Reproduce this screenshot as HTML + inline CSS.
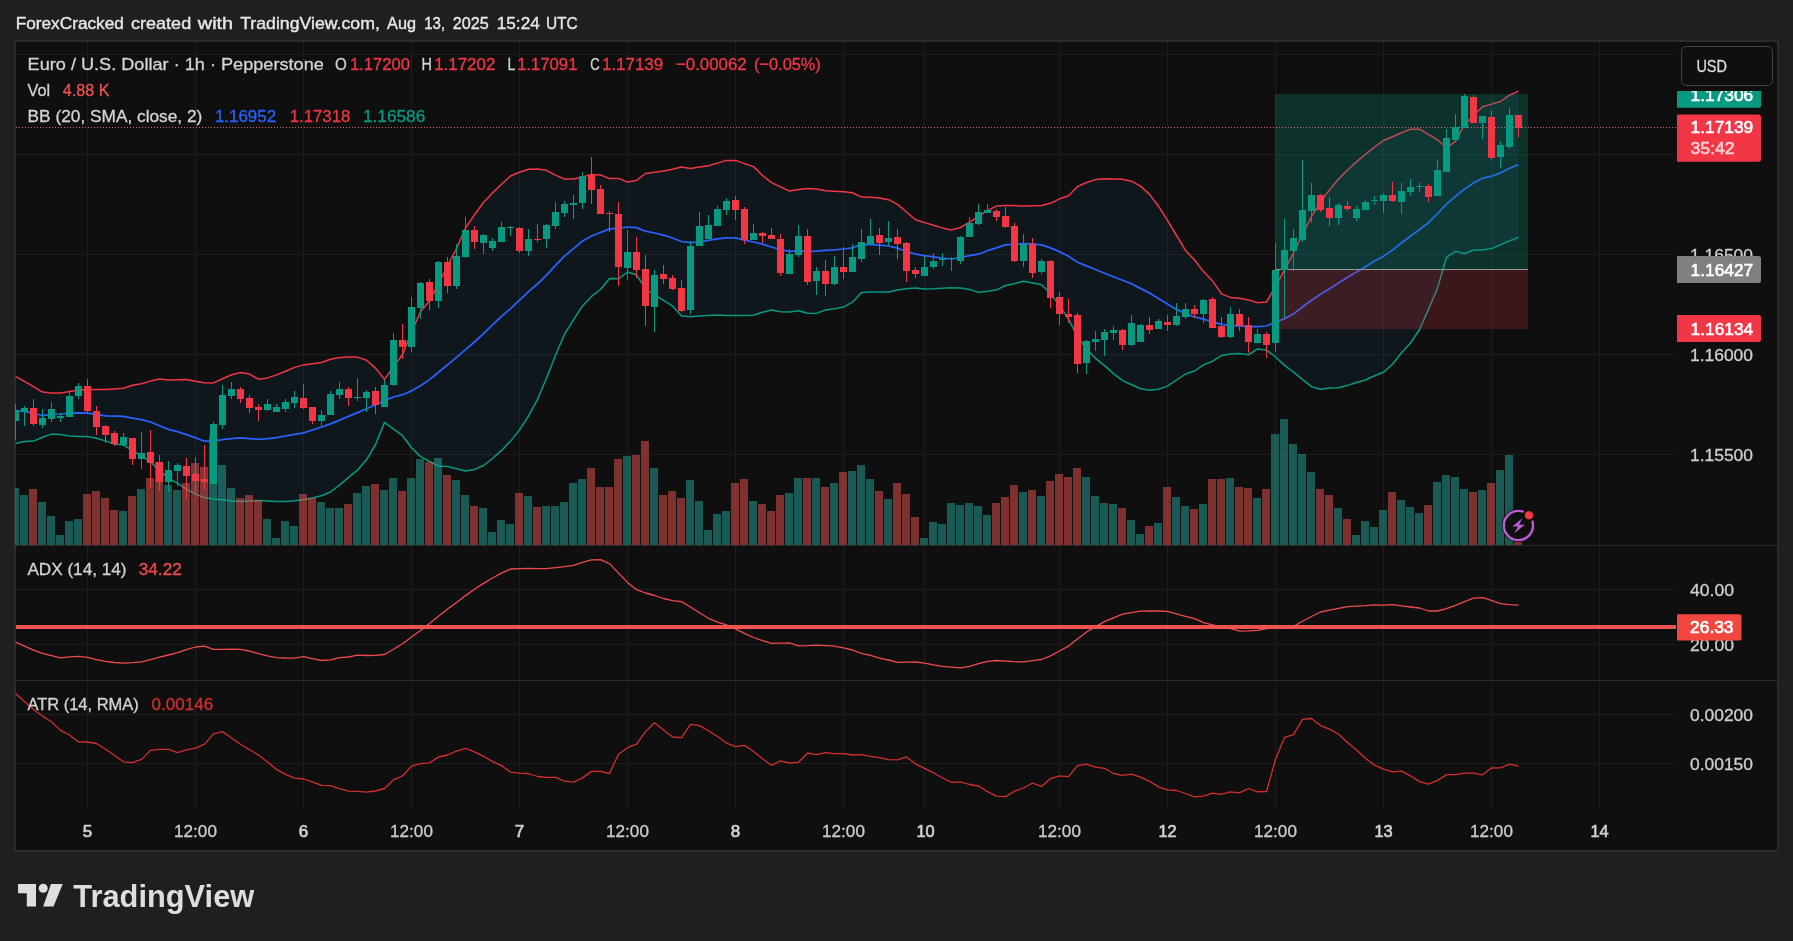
<!DOCTYPE html>
<html lang="en"><head><meta charset="utf-8"><title>EURUSD 1h chart - TradingView</title>
<style>html,body{margin:0;padding:0;background:#1f1f1f;}body{width:1793px;height:941px;overflow:hidden;}svg{display:block;font-family:'Liberation Sans', sans-serif;will-change:transform;}text{white-space:pre;}</style>
</head><body>
<svg width="1793" height="941" viewBox="0 0 1793 941">
<defs>
<clipPath id="cpMain"><rect x="15" y="42" width="1661" height="503"/></clipPath>
<clipPath id="cpAdx"><rect x="15" y="546" width="1661" height="134"/></clipPath>
<clipPath id="cpAtr"><rect x="15" y="681" width="1661" height="128"/></clipPath>
<clipPath id="cpAxis"><rect x="1677" y="91" width="100" height="454"/></clipPath>
</defs>
<rect x="0" y="0" width="1793" height="941" fill="#1f1f1f"/>
<rect x="14" y="40" width="1765" height="812" fill="#2b2b2b"/>
<rect x="16" y="42" width="1761" height="808" fill="#0f0f0f"/>
<g fill="#1d1d1d" shape-rendering="crispEdges">
<rect x="87" y="42" width="1" height="767"/>
<rect x="195" y="42" width="1" height="767"/>
<rect x="303" y="42" width="1" height="767"/>
<rect x="411" y="42" width="1" height="767"/>
<rect x="519" y="42" width="1" height="767"/>
<rect x="627" y="42" width="1" height="767"/>
<rect x="735" y="42" width="1" height="767"/>
<rect x="843" y="42" width="1" height="767"/>
<rect x="924" y="42" width="1" height="767"/>
<rect x="1059" y="42" width="1" height="767"/>
<rect x="1167" y="42" width="1" height="767"/>
<rect x="1275" y="42" width="1" height="767"/>
<rect x="1383" y="42" width="1" height="767"/>
<rect x="1491" y="42" width="1" height="767"/>
<rect x="1599" y="42" width="1" height="767"/>
<rect x="16" y="54" width="1660" height="1"/>
<rect x="16" y="154" width="1660" height="1"/>
<rect x="16" y="254" width="1660" height="1"/>
<rect x="16" y="354" width="1660" height="1"/>
<rect x="16" y="454" width="1660" height="1"/>
<rect x="16" y="589" width="1660" height="1"/>
<rect x="16" y="644" width="1660" height="1"/>
<rect x="16" y="714" width="1660" height="1"/>
<rect x="16" y="763" width="1660" height="1"/>
</g>
<g fill="#2a2a2a" shape-rendering="crispEdges">
<rect x="16" y="545" width="1761" height="1"/>
<rect x="16" y="680" width="1761" height="1"/>
</g>
<g clip-path="url(#cpMain)">
<polygon points="15.5,376.4 24.5,381.4 33.5,386.6 42.5,392.1 51.5,393.0 60.5,393.0 69.5,391.5 78.5,390.1 87.5,389.8 96.5,389.6 105.5,389.5 114.5,388.9 123.5,388.2 132.5,385.2 141.5,383.7 150.5,381.1 159.5,379.1 168.5,380.1 177.5,379.7 186.5,379.5 195.5,381.2 204.5,382.7 213.5,382.9 222.5,378.7 231.5,374.7 240.5,372.6 249.5,374.1 258.5,379.3 267.5,377.9 276.5,374.9 285.5,371.2 294.5,367.4 303.5,364.9 312.5,363.7 321.5,362.5 330.5,359.2 339.5,357.4 348.5,357.0 357.5,357.1 366.5,360.3 375.5,368.1 384.5,379.4 393.5,366.6 402.5,354.5 411.5,332.1 420.5,311.8 429.5,300.8 438.5,283.5 447.5,266.0 456.5,248.5 465.5,228.0 474.5,214.7 483.5,202.5 492.5,192.9 501.5,184.3 510.5,176.0 519.5,172.3 528.5,169.2 537.5,169.0 546.5,170.3 555.5,175.1 564.5,179.1 573.5,179.0 582.5,177.0 591.5,174.4 600.5,174.9 609.5,178.6 618.5,178.4 627.5,182.1 636.5,180.4 645.5,173.5 654.5,172.2 663.5,171.0 672.5,169.3 681.5,167.0 690.5,168.6 699.5,167.1 708.5,165.8 717.5,163.1 726.5,160.4 735.5,160.4 744.5,163.6 753.5,166.6 762.5,175.5 771.5,182.6 780.5,186.9 789.5,191.1 798.5,189.4 807.5,188.6 816.5,189.1 825.5,190.8 834.5,191.3 843.5,191.8 852.5,192.8 861.5,197.1 870.5,197.2 879.5,198.1 888.5,199.7 897.5,204.4 906.5,212.0 915.5,219.8 924.5,222.6 933.5,225.2 942.5,227.9 951.5,229.9 960.5,227.5 969.5,222.1 978.5,216.3 987.5,210.4 996.5,206.1 1005.5,205.4 1014.5,205.6 1023.5,206.1 1032.5,205.8 1041.5,205.5 1050.5,203.3 1059.5,198.8 1068.5,195.8 1077.5,186.6 1086.5,182.5 1095.5,179.6 1104.5,178.7 1113.5,179.0 1122.5,179.3 1131.5,181.2 1140.5,186.1 1149.5,194.4 1158.5,206.2 1167.5,220.4 1176.5,235.5 1185.5,250.3 1194.5,260.0 1203.5,271.6 1212.5,280.9 1221.5,293.9 1230.5,297.4 1239.5,298.3 1248.5,299.9 1257.5,302.8 1266.5,301.9 1275.5,286.5 1284.5,270.2 1293.5,253.0 1302.5,234.5 1311.5,216.7 1320.5,201.8 1329.5,189.9 1338.5,179.1 1347.5,170.0 1356.5,161.9 1365.5,154.2 1374.5,147.1 1383.5,140.5 1392.5,136.8 1401.5,132.7 1410.5,129.2 1419.5,129.2 1428.5,134.3 1437.5,139.8 1446.5,147.7 1455.5,141.3 1464.5,124.7 1473.5,115.5 1482.5,106.7 1491.5,104.1 1500.5,101.5 1509.5,95.2 1518.5,91.1 1518.5,237.2 1509.5,240.9 1500.5,244.8 1491.5,248.6 1482.5,250.0 1473.5,250.0 1464.5,253.7 1455.5,251.3 1446.5,257.2 1437.5,288.1 1428.5,309.4 1419.5,329.5 1410.5,343.0 1401.5,352.8 1392.5,364.3 1383.5,372.3 1374.5,375.8 1365.5,380.0 1356.5,382.5 1347.5,385.4 1338.5,387.7 1329.5,387.9 1320.5,389.2 1311.5,386.7 1302.5,379.7 1293.5,372.2 1284.5,365.4 1275.5,357.0 1266.5,350.1 1257.5,348.9 1248.5,354.8 1239.5,353.4 1230.5,353.9 1221.5,355.6 1212.5,361.2 1203.5,364.9 1194.5,371.0 1185.5,374.0 1176.5,380.0 1167.5,386.1 1158.5,389.3 1149.5,390.3 1140.5,388.7 1131.5,384.8 1122.5,380.6 1113.5,373.6 1104.5,365.6 1095.5,358.3 1086.5,349.3 1077.5,336.9 1068.5,319.1 1059.5,305.4 1050.5,293.5 1041.5,284.7 1032.5,283.0 1023.5,281.2 1014.5,283.7 1005.5,285.5 996.5,289.9 987.5,291.3 978.5,292.4 969.5,289.4 960.5,287.9 951.5,287.8 942.5,288.3 933.5,288.7 924.5,288.9 915.5,288.1 906.5,288.7 897.5,290.0 888.5,291.9 879.5,292.0 870.5,292.0 861.5,292.5 852.5,302.2 843.5,307.1 834.5,308.7 825.5,309.9 816.5,313.4 807.5,313.3 798.5,310.8 789.5,312.1 780.5,311.8 771.5,310.1 762.5,312.3 753.5,315.2 744.5,315.4 735.5,315.4 726.5,315.4 717.5,315.1 708.5,315.4 699.5,316.0 690.5,316.8 681.5,316.1 672.5,306.1 663.5,300.4 654.5,295.0 645.5,288.7 636.5,275.0 627.5,272.0 618.5,278.8 609.5,278.6 600.5,289.5 591.5,296.4 582.5,305.9 573.5,319.9 564.5,334.2 555.5,355.2 546.5,378.2 537.5,399.3 528.5,416.0 519.5,429.9 510.5,441.1 501.5,450.4 492.5,458.5 483.5,465.5 474.5,469.4 465.5,470.9 456.5,468.7 447.5,466.5 438.5,466.0 429.5,461.5 420.5,456.6 411.5,447.7 402.5,435.7 393.5,429.1 384.5,422.4 375.5,444.5 366.5,459.8 357.5,470.1 348.5,477.4 339.5,485.1 330.5,492.0 321.5,495.8 312.5,498.1 303.5,499.7 294.5,500.8 285.5,501.5 276.5,501.5 267.5,501.0 258.5,500.5 249.5,501.1 240.5,501.5 231.5,501.1 222.5,499.8 213.5,499.1 204.5,497.8 195.5,494.1 186.5,489.1 177.5,483.3 168.5,478.1 159.5,470.7 150.5,461.8 141.5,455.8 132.5,450.6 123.5,445.0 114.5,444.1 105.5,440.9 96.5,438.2 87.5,436.6 78.5,436.6 69.5,435.9 60.5,434.4 51.5,434.1 42.5,437.2 33.5,441.1 24.5,441.6 15.5,443.6" fill="rgba(33,150,243,0.06)"/>
<polyline points="15.5,376.4 24.5,381.4 33.5,386.6 42.5,392.1 51.5,393.0 60.5,393.0 69.5,391.5 78.5,390.1 87.5,389.8 96.5,389.6 105.5,389.5 114.5,388.9 123.5,388.2 132.5,385.2 141.5,383.7 150.5,381.1 159.5,379.1 168.5,380.1 177.5,379.7 186.5,379.5 195.5,381.2 204.5,382.7 213.5,382.9 222.5,378.7 231.5,374.7 240.5,372.6 249.5,374.1 258.5,379.3 267.5,377.9 276.5,374.9 285.5,371.2 294.5,367.4 303.5,364.9 312.5,363.7 321.5,362.5 330.5,359.2 339.5,357.4 348.5,357.0 357.5,357.1 366.5,360.3 375.5,368.1 384.5,379.4 393.5,366.6 402.5,354.5 411.5,332.1 420.5,311.8 429.5,300.8 438.5,283.5 447.5,266.0 456.5,248.5 465.5,228.0 474.5,214.7 483.5,202.5 492.5,192.9 501.5,184.3 510.5,176.0 519.5,172.3 528.5,169.2 537.5,169.0 546.5,170.3 555.5,175.1 564.5,179.1 573.5,179.0 582.5,177.0 591.5,174.4 600.5,174.9 609.5,178.6 618.5,178.4 627.5,182.1 636.5,180.4 645.5,173.5 654.5,172.2 663.5,171.0 672.5,169.3 681.5,167.0 690.5,168.6 699.5,167.1 708.5,165.8 717.5,163.1 726.5,160.4 735.5,160.4 744.5,163.6 753.5,166.6 762.5,175.5 771.5,182.6 780.5,186.9 789.5,191.1 798.5,189.4 807.5,188.6 816.5,189.1 825.5,190.8 834.5,191.3 843.5,191.8 852.5,192.8 861.5,197.1 870.5,197.2 879.5,198.1 888.5,199.7 897.5,204.4 906.5,212.0 915.5,219.8 924.5,222.6 933.5,225.2 942.5,227.9 951.5,229.9 960.5,227.5 969.5,222.1 978.5,216.3 987.5,210.4 996.5,206.1 1005.5,205.4 1014.5,205.6 1023.5,206.1 1032.5,205.8 1041.5,205.5 1050.5,203.3 1059.5,198.8 1068.5,195.8 1077.5,186.6 1086.5,182.5 1095.5,179.6 1104.5,178.7 1113.5,179.0 1122.5,179.3 1131.5,181.2 1140.5,186.1 1149.5,194.4 1158.5,206.2 1167.5,220.4 1176.5,235.5 1185.5,250.3 1194.5,260.0 1203.5,271.6 1212.5,280.9 1221.5,293.9 1230.5,297.4 1239.5,298.3 1248.5,299.9 1257.5,302.8 1266.5,301.9 1275.5,286.5 1284.5,270.2 1293.5,253.0 1302.5,234.5 1311.5,216.7 1320.5,201.8 1329.5,189.9 1338.5,179.1 1347.5,170.0 1356.5,161.9 1365.5,154.2 1374.5,147.1 1383.5,140.5 1392.5,136.8 1401.5,132.7 1410.5,129.2 1419.5,129.2 1428.5,134.3 1437.5,139.8 1446.5,147.7 1455.5,141.3 1464.5,124.7 1473.5,115.5 1482.5,106.7 1491.5,104.1 1500.5,101.5 1509.5,95.2 1518.5,91.1" fill="none" stroke="#f23645" stroke-width="1.5" stroke-linejoin="round"/>
<polyline points="15.5,443.6 24.5,441.6 33.5,441.1 42.5,437.2 51.5,434.1 60.5,434.4 69.5,435.9 78.5,436.6 87.5,436.6 96.5,438.2 105.5,440.9 114.5,444.1 123.5,445.0 132.5,450.6 141.5,455.8 150.5,461.8 159.5,470.7 168.5,478.1 177.5,483.3 186.5,489.1 195.5,494.1 204.5,497.8 213.5,499.1 222.5,499.8 231.5,501.1 240.5,501.5 249.5,501.1 258.5,500.5 267.5,501.0 276.5,501.5 285.5,501.5 294.5,500.8 303.5,499.7 312.5,498.1 321.5,495.8 330.5,492.0 339.5,485.1 348.5,477.4 357.5,470.1 366.5,459.8 375.5,444.5 384.5,422.4 393.5,429.1 402.5,435.7 411.5,447.7 420.5,456.6 429.5,461.5 438.5,466.0 447.5,466.5 456.5,468.7 465.5,470.9 474.5,469.4 483.5,465.5 492.5,458.5 501.5,450.4 510.5,441.1 519.5,429.9 528.5,416.0 537.5,399.3 546.5,378.2 555.5,355.2 564.5,334.2 573.5,319.9 582.5,305.9 591.5,296.4 600.5,289.5 609.5,278.6 618.5,278.8 627.5,272.0 636.5,275.0 645.5,288.7 654.5,295.0 663.5,300.4 672.5,306.1 681.5,316.1 690.5,316.8 699.5,316.0 708.5,315.4 717.5,315.1 726.5,315.4 735.5,315.4 744.5,315.4 753.5,315.2 762.5,312.3 771.5,310.1 780.5,311.8 789.5,312.1 798.5,310.8 807.5,313.3 816.5,313.4 825.5,309.9 834.5,308.7 843.5,307.1 852.5,302.2 861.5,292.5 870.5,292.0 879.5,292.0 888.5,291.9 897.5,290.0 906.5,288.7 915.5,288.1 924.5,288.9 933.5,288.7 942.5,288.3 951.5,287.8 960.5,287.9 969.5,289.4 978.5,292.4 987.5,291.3 996.5,289.9 1005.5,285.5 1014.5,283.7 1023.5,281.2 1032.5,283.0 1041.5,284.7 1050.5,293.5 1059.5,305.4 1068.5,319.1 1077.5,336.9 1086.5,349.3 1095.5,358.3 1104.5,365.6 1113.5,373.6 1122.5,380.6 1131.5,384.8 1140.5,388.7 1149.5,390.3 1158.5,389.3 1167.5,386.1 1176.5,380.0 1185.5,374.0 1194.5,371.0 1203.5,364.9 1212.5,361.2 1221.5,355.6 1230.5,353.9 1239.5,353.4 1248.5,354.8 1257.5,348.9 1266.5,350.1 1275.5,357.0 1284.5,365.4 1293.5,372.2 1302.5,379.7 1311.5,386.7 1320.5,389.2 1329.5,387.9 1338.5,387.7 1347.5,385.4 1356.5,382.5 1365.5,380.0 1374.5,375.8 1383.5,372.3 1392.5,364.3 1401.5,352.8 1410.5,343.0 1419.5,329.5 1428.5,309.4 1437.5,288.1 1446.5,257.2 1455.5,251.3 1464.5,253.7 1473.5,250.0 1482.5,250.0 1491.5,248.6 1500.5,244.8 1509.5,240.9 1518.5,237.2" fill="none" stroke="#089981" stroke-width="1.5" stroke-linejoin="round"/>
<polyline points="15.5,410.6 24.5,411.3 33.5,413.5 42.5,415.7 51.5,414.3 60.5,414.0 69.5,413.1 78.5,412.8 87.5,413.1 96.5,414.3 105.5,415.8 114.5,416.1 123.5,416.4 132.5,418.1 141.5,419.6 150.5,422.0 159.5,425.8 168.5,429.4 177.5,431.7 186.5,434.7 195.5,437.9 204.5,441.2 213.5,441.0 222.5,439.7 231.5,438.6 240.5,437.8 249.5,438.6 258.5,439.3 267.5,438.7 276.5,437.6 285.5,436.0 294.5,434.4 303.5,432.8 312.5,430.0 321.5,427.0 330.5,423.9 339.5,420.1 348.5,416.4 357.5,412.6 366.5,408.8 375.5,404.7 384.5,400.6 393.5,397.0 402.5,394.7 411.5,390.9 420.5,385.7 429.5,379.6 438.5,372.3 447.5,364.9 456.5,357.4 465.5,349.7 474.5,342.0 483.5,333.6 492.5,324.9 501.5,316.4 510.5,308.7 519.5,300.2 528.5,291.7 537.5,284.0 546.5,275.2 555.5,265.3 564.5,256.2 573.5,248.6 582.5,241.0 591.5,236.0 600.5,232.5 609.5,228.9 618.5,228.4 627.5,227.0 636.5,227.6 645.5,231.2 654.5,233.0 663.5,235.2 672.5,238.0 681.5,241.5 690.5,242.6 699.5,241.8 708.5,240.4 717.5,238.9 726.5,237.9 735.5,237.9 744.5,240.2 753.5,242.0 762.5,244.2 771.5,247.0 780.5,249.6 789.5,251.3 798.5,250.9 807.5,251.7 816.5,251.2 825.5,250.4 834.5,249.9 843.5,249.0 852.5,247.8 861.5,244.4 870.5,244.6 879.5,245.1 888.5,246.0 897.5,248.2 906.5,251.5 915.5,254.1 924.5,255.6 933.5,256.8 942.5,258.2 951.5,259.0 960.5,257.5 969.5,255.7 978.5,254.2 987.5,250.7 996.5,247.8 1005.5,244.9 1014.5,244.1 1023.5,243.7 1032.5,243.8 1041.5,244.8 1050.5,247.9 1059.5,251.6 1068.5,256.2 1077.5,262.3 1086.5,265.9 1095.5,269.5 1104.5,273.2 1113.5,276.8 1122.5,280.2 1131.5,283.7 1140.5,288.4 1149.5,293.1 1158.5,298.6 1167.5,304.0 1176.5,309.4 1185.5,313.8 1194.5,316.8 1203.5,319.1 1212.5,321.8 1221.5,324.4 1230.5,325.3 1239.5,325.9 1248.5,326.6 1257.5,326.6 1266.5,326.0 1275.5,322.1 1284.5,318.8 1293.5,313.9 1302.5,307.0 1311.5,300.3 1320.5,294.2 1329.5,288.8 1338.5,283.1 1347.5,277.3 1356.5,271.9 1365.5,266.7 1374.5,261.0 1383.5,256.2 1392.5,250.1 1401.5,242.8 1410.5,236.2 1419.5,229.5 1428.5,222.7 1437.5,213.5 1446.5,204.2 1455.5,196.3 1464.5,189.1 1473.5,183.0 1482.5,178.3 1491.5,176.2 1500.5,172.9 1509.5,168.3 1518.5,164.6" fill="none" stroke="#2962ff" stroke-width="1.75" stroke-linejoin="round"/>
<rect x="1275" y="94" width="253" height="175.5" fill="rgba(8,153,129,0.25)"/>
<rect x="1275" y="269.5" width="253" height="59.5" fill="rgba(242,54,69,0.2)"/>
<rect x="1275" y="269" width="253" height="1" fill="#9a9a94"/>
</g>
<g clip-path="url(#cpMain)" shape-rendering="crispEdges">
<rect x="11" y="488" width="8" height="57" fill="rgba(38,166,154,0.5)"/>
<rect x="20" y="495" width="8" height="50" fill="rgba(38,166,154,0.5)"/>
<rect x="29" y="489" width="8" height="56" fill="rgba(239,83,80,0.5)"/>
<rect x="38" y="502" width="8" height="43" fill="rgba(38,166,154,0.5)"/>
<rect x="47" y="516" width="8" height="29" fill="rgba(38,166,154,0.5)"/>
<rect x="56" y="535" width="8" height="10" fill="rgba(38,166,154,0.5)"/>
<rect x="65" y="521" width="8" height="24" fill="rgba(38,166,154,0.5)"/>
<rect x="74" y="519" width="8" height="26" fill="rgba(38,166,154,0.5)"/>
<rect x="83" y="494" width="8" height="51" fill="rgba(239,83,80,0.5)"/>
<rect x="92" y="491" width="8" height="54" fill="rgba(239,83,80,0.5)"/>
<rect x="101" y="498" width="8" height="47" fill="rgba(239,83,80,0.5)"/>
<rect x="110" y="510" width="8" height="35" fill="rgba(239,83,80,0.5)"/>
<rect x="119" y="511" width="8" height="34" fill="rgba(38,166,154,0.5)"/>
<rect x="128" y="496" width="8" height="49" fill="rgba(239,83,80,0.5)"/>
<rect x="137" y="489" width="8" height="56" fill="rgba(38,166,154,0.5)"/>
<rect x="146" y="478" width="8" height="67" fill="rgba(239,83,80,0.5)"/>
<rect x="155" y="462" width="8" height="83" fill="rgba(239,83,80,0.5)"/>
<rect x="164" y="485" width="8" height="60" fill="rgba(38,166,154,0.5)"/>
<rect x="173" y="490" width="8" height="55" fill="rgba(38,166,154,0.5)"/>
<rect x="182" y="483" width="8" height="62" fill="rgba(239,83,80,0.5)"/>
<rect x="191" y="463" width="8" height="82" fill="rgba(239,83,80,0.5)"/>
<rect x="200" y="467" width="8" height="78" fill="rgba(239,83,80,0.5)"/>
<rect x="209" y="435" width="8" height="110" fill="rgba(38,166,154,0.5)"/>
<rect x="218" y="465" width="8" height="80" fill="rgba(38,166,154,0.5)"/>
<rect x="227" y="488" width="8" height="57" fill="rgba(38,166,154,0.5)"/>
<rect x="236" y="498" width="8" height="47" fill="rgba(239,83,80,0.5)"/>
<rect x="245" y="495" width="8" height="50" fill="rgba(239,83,80,0.5)"/>
<rect x="254" y="500" width="8" height="45" fill="rgba(239,83,80,0.5)"/>
<rect x="263" y="519" width="8" height="26" fill="rgba(38,166,154,0.5)"/>
<rect x="272" y="538" width="8" height="7" fill="rgba(38,166,154,0.5)"/>
<rect x="281" y="521" width="8" height="24" fill="rgba(38,166,154,0.5)"/>
<rect x="290" y="526" width="8" height="19" fill="rgba(38,166,154,0.5)"/>
<rect x="299" y="494" width="8" height="51" fill="rgba(239,83,80,0.5)"/>
<rect x="308" y="498" width="8" height="47" fill="rgba(239,83,80,0.5)"/>
<rect x="317" y="502" width="8" height="43" fill="rgba(38,166,154,0.5)"/>
<rect x="326" y="508" width="8" height="37" fill="rgba(38,166,154,0.5)"/>
<rect x="335" y="508" width="8" height="37" fill="rgba(38,166,154,0.5)"/>
<rect x="344" y="504" width="8" height="41" fill="rgba(239,83,80,0.5)"/>
<rect x="353" y="493" width="8" height="52" fill="rgba(38,166,154,0.5)"/>
<rect x="362" y="486" width="8" height="59" fill="rgba(38,166,154,0.5)"/>
<rect x="371" y="484" width="8" height="61" fill="rgba(239,83,80,0.5)"/>
<rect x="380" y="490" width="8" height="55" fill="rgba(38,166,154,0.5)"/>
<rect x="389" y="478" width="8" height="67" fill="rgba(38,166,154,0.5)"/>
<rect x="398" y="491" width="8" height="54" fill="rgba(239,83,80,0.5)"/>
<rect x="407" y="478" width="8" height="67" fill="rgba(38,166,154,0.5)"/>
<rect x="416" y="459" width="8" height="86" fill="rgba(38,166,154,0.5)"/>
<rect x="425" y="462" width="8" height="83" fill="rgba(239,83,80,0.5)"/>
<rect x="434" y="458" width="8" height="87" fill="rgba(38,166,154,0.5)"/>
<rect x="443" y="475" width="8" height="70" fill="rgba(239,83,80,0.5)"/>
<rect x="452" y="480" width="8" height="65" fill="rgba(38,166,154,0.5)"/>
<rect x="461" y="495" width="8" height="50" fill="rgba(38,166,154,0.5)"/>
<rect x="470" y="506" width="8" height="39" fill="rgba(239,83,80,0.5)"/>
<rect x="479" y="508" width="8" height="37" fill="rgba(38,166,154,0.5)"/>
<rect x="488" y="532" width="8" height="13" fill="rgba(38,166,154,0.5)"/>
<rect x="497" y="520" width="8" height="25" fill="rgba(38,166,154,0.5)"/>
<rect x="506" y="524" width="8" height="21" fill="rgba(38,166,154,0.5)"/>
<rect x="515" y="493" width="8" height="52" fill="rgba(239,83,80,0.5)"/>
<rect x="524" y="496" width="8" height="49" fill="rgba(38,166,154,0.5)"/>
<rect x="533" y="507" width="8" height="38" fill="rgba(239,83,80,0.5)"/>
<rect x="542" y="506" width="8" height="39" fill="rgba(38,166,154,0.5)"/>
<rect x="551" y="506" width="8" height="39" fill="rgba(38,166,154,0.5)"/>
<rect x="560" y="502" width="8" height="43" fill="rgba(38,166,154,0.5)"/>
<rect x="569" y="483" width="8" height="62" fill="rgba(38,166,154,0.5)"/>
<rect x="578" y="479" width="8" height="66" fill="rgba(38,166,154,0.5)"/>
<rect x="587" y="468" width="8" height="77" fill="rgba(239,83,80,0.5)"/>
<rect x="596" y="487" width="8" height="58" fill="rgba(239,83,80,0.5)"/>
<rect x="605" y="487" width="8" height="58" fill="rgba(239,83,80,0.5)"/>
<rect x="614" y="459" width="8" height="86" fill="rgba(239,83,80,0.5)"/>
<rect x="623" y="456" width="8" height="89" fill="rgba(38,166,154,0.5)"/>
<rect x="632" y="455" width="8" height="90" fill="rgba(239,83,80,0.5)"/>
<rect x="641" y="441" width="8" height="104" fill="rgba(239,83,80,0.5)"/>
<rect x="650" y="468" width="8" height="77" fill="rgba(38,166,154,0.5)"/>
<rect x="659" y="495" width="8" height="50" fill="rgba(239,83,80,0.5)"/>
<rect x="668" y="491" width="8" height="54" fill="rgba(239,83,80,0.5)"/>
<rect x="677" y="498" width="8" height="47" fill="rgba(239,83,80,0.5)"/>
<rect x="686" y="480" width="8" height="65" fill="rgba(38,166,154,0.5)"/>
<rect x="695" y="501" width="8" height="44" fill="rgba(38,166,154,0.5)"/>
<rect x="704" y="530" width="8" height="15" fill="rgba(38,166,154,0.5)"/>
<rect x="713" y="514" width="8" height="31" fill="rgba(38,166,154,0.5)"/>
<rect x="722" y="511" width="8" height="34" fill="rgba(38,166,154,0.5)"/>
<rect x="731" y="483" width="8" height="62" fill="rgba(239,83,80,0.5)"/>
<rect x="740" y="479" width="8" height="66" fill="rgba(239,83,80,0.5)"/>
<rect x="749" y="501" width="8" height="44" fill="rgba(38,166,154,0.5)"/>
<rect x="758" y="504" width="8" height="41" fill="rgba(239,83,80,0.5)"/>
<rect x="767" y="511" width="8" height="34" fill="rgba(239,83,80,0.5)"/>
<rect x="776" y="495" width="8" height="50" fill="rgba(239,83,80,0.5)"/>
<rect x="785" y="493" width="8" height="52" fill="rgba(38,166,154,0.5)"/>
<rect x="794" y="478" width="8" height="67" fill="rgba(38,166,154,0.5)"/>
<rect x="803" y="478" width="8" height="67" fill="rgba(239,83,80,0.5)"/>
<rect x="812" y="478" width="8" height="67" fill="rgba(38,166,154,0.5)"/>
<rect x="821" y="487" width="8" height="58" fill="rgba(239,83,80,0.5)"/>
<rect x="830" y="483" width="8" height="62" fill="rgba(38,166,154,0.5)"/>
<rect x="839" y="472" width="8" height="73" fill="rgba(239,83,80,0.5)"/>
<rect x="848" y="471" width="8" height="74" fill="rgba(38,166,154,0.5)"/>
<rect x="857" y="465" width="8" height="80" fill="rgba(38,166,154,0.5)"/>
<rect x="866" y="479" width="8" height="66" fill="rgba(38,166,154,0.5)"/>
<rect x="875" y="491" width="8" height="54" fill="rgba(239,83,80,0.5)"/>
<rect x="884" y="499" width="8" height="46" fill="rgba(38,166,154,0.5)"/>
<rect x="893" y="483" width="8" height="62" fill="rgba(239,83,80,0.5)"/>
<rect x="902" y="494" width="8" height="51" fill="rgba(239,83,80,0.5)"/>
<rect x="911" y="517" width="8" height="28" fill="rgba(239,83,80,0.5)"/>
<rect x="920" y="538" width="8" height="7" fill="rgba(38,166,154,0.5)"/>
<rect x="929" y="522" width="8" height="23" fill="rgba(38,166,154,0.5)"/>
<rect x="938" y="524" width="8" height="21" fill="rgba(38,166,154,0.5)"/>
<rect x="947" y="503" width="8" height="42" fill="rgba(38,166,154,0.5)"/>
<rect x="956" y="505" width="8" height="40" fill="rgba(38,166,154,0.5)"/>
<rect x="965" y="503" width="8" height="42" fill="rgba(38,166,154,0.5)"/>
<rect x="974" y="506" width="8" height="39" fill="rgba(38,166,154,0.5)"/>
<rect x="983" y="515" width="8" height="30" fill="rgba(38,166,154,0.5)"/>
<rect x="992" y="503" width="8" height="42" fill="rgba(239,83,80,0.5)"/>
<rect x="1001" y="497" width="8" height="48" fill="rgba(239,83,80,0.5)"/>
<rect x="1010" y="485" width="8" height="60" fill="rgba(239,83,80,0.5)"/>
<rect x="1019" y="492" width="8" height="53" fill="rgba(38,166,154,0.5)"/>
<rect x="1028" y="490" width="8" height="55" fill="rgba(239,83,80,0.5)"/>
<rect x="1037" y="496" width="8" height="49" fill="rgba(38,166,154,0.5)"/>
<rect x="1046" y="481" width="8" height="64" fill="rgba(239,83,80,0.5)"/>
<rect x="1055" y="474" width="8" height="71" fill="rgba(239,83,80,0.5)"/>
<rect x="1064" y="477" width="8" height="68" fill="rgba(239,83,80,0.5)"/>
<rect x="1073" y="468" width="8" height="77" fill="rgba(239,83,80,0.5)"/>
<rect x="1082" y="477" width="8" height="68" fill="rgba(38,166,154,0.5)"/>
<rect x="1091" y="496" width="8" height="49" fill="rgba(38,166,154,0.5)"/>
<rect x="1100" y="503" width="8" height="42" fill="rgba(38,166,154,0.5)"/>
<rect x="1109" y="504" width="8" height="41" fill="rgba(38,166,154,0.5)"/>
<rect x="1118" y="508" width="8" height="37" fill="rgba(239,83,80,0.5)"/>
<rect x="1127" y="520" width="8" height="25" fill="rgba(38,166,154,0.5)"/>
<rect x="1136" y="534" width="8" height="11" fill="rgba(38,166,154,0.5)"/>
<rect x="1145" y="526" width="8" height="19" fill="rgba(239,83,80,0.5)"/>
<rect x="1154" y="523" width="8" height="22" fill="rgba(38,166,154,0.5)"/>
<rect x="1163" y="487" width="8" height="58" fill="rgba(239,83,80,0.5)"/>
<rect x="1172" y="497" width="8" height="48" fill="rgba(38,166,154,0.5)"/>
<rect x="1181" y="506" width="8" height="39" fill="rgba(38,166,154,0.5)"/>
<rect x="1190" y="509" width="8" height="36" fill="rgba(239,83,80,0.5)"/>
<rect x="1199" y="504" width="8" height="41" fill="rgba(38,166,154,0.5)"/>
<rect x="1208" y="479" width="8" height="66" fill="rgba(239,83,80,0.5)"/>
<rect x="1217" y="479" width="8" height="66" fill="rgba(239,83,80,0.5)"/>
<rect x="1226" y="478" width="8" height="67" fill="rgba(38,166,154,0.5)"/>
<rect x="1235" y="487" width="8" height="58" fill="rgba(239,83,80,0.5)"/>
<rect x="1244" y="488" width="8" height="57" fill="rgba(239,83,80,0.5)"/>
<rect x="1253" y="498" width="8" height="47" fill="rgba(38,166,154,0.5)"/>
<rect x="1262" y="489" width="8" height="56" fill="rgba(239,83,80,0.5)"/>
<rect x="1271" y="434" width="8" height="111" fill="rgba(38,166,154,0.5)"/>
<rect x="1280" y="419" width="8" height="126" fill="rgba(38,166,154,0.5)"/>
<rect x="1289" y="444" width="8" height="101" fill="rgba(38,166,154,0.5)"/>
<rect x="1298" y="454" width="8" height="91" fill="rgba(38,166,154,0.5)"/>
<rect x="1307" y="472" width="8" height="73" fill="rgba(38,166,154,0.5)"/>
<rect x="1316" y="489" width="8" height="56" fill="rgba(239,83,80,0.5)"/>
<rect x="1325" y="495" width="8" height="50" fill="rgba(239,83,80,0.5)"/>
<rect x="1334" y="508" width="8" height="37" fill="rgba(38,166,154,0.5)"/>
<rect x="1343" y="519" width="8" height="26" fill="rgba(239,83,80,0.5)"/>
<rect x="1352" y="535" width="8" height="10" fill="rgba(38,166,154,0.5)"/>
<rect x="1361" y="521" width="8" height="24" fill="rgba(38,166,154,0.5)"/>
<rect x="1370" y="527" width="8" height="18" fill="rgba(38,166,154,0.5)"/>
<rect x="1379" y="510" width="8" height="35" fill="rgba(38,166,154,0.5)"/>
<rect x="1388" y="492" width="8" height="53" fill="rgba(239,83,80,0.5)"/>
<rect x="1397" y="500" width="8" height="45" fill="rgba(38,166,154,0.5)"/>
<rect x="1406" y="507" width="8" height="38" fill="rgba(38,166,154,0.5)"/>
<rect x="1415" y="513" width="8" height="32" fill="rgba(38,166,154,0.5)"/>
<rect x="1424" y="505" width="8" height="40" fill="rgba(239,83,80,0.5)"/>
<rect x="1433" y="482" width="8" height="63" fill="rgba(38,166,154,0.5)"/>
<rect x="1442" y="475" width="8" height="70" fill="rgba(38,166,154,0.5)"/>
<rect x="1451" y="477" width="8" height="68" fill="rgba(38,166,154,0.5)"/>
<rect x="1460" y="489" width="8" height="56" fill="rgba(38,166,154,0.5)"/>
<rect x="1469" y="492" width="8" height="53" fill="rgba(239,83,80,0.5)"/>
<rect x="1478" y="490" width="8" height="55" fill="rgba(38,166,154,0.5)"/>
<rect x="1487" y="483" width="8" height="62" fill="rgba(239,83,80,0.5)"/>
<rect x="1496" y="470" width="8" height="75" fill="rgba(38,166,154,0.5)"/>
<rect x="1505" y="455" width="8" height="90" fill="rgba(38,166,154,0.5)"/>
<rect x="1514" y="542" width="8" height="3" fill="rgba(239,83,80,0.5)"/>
</g>
<line x1="16" y1="127.5" x2="1676" y2="127.5" stroke="#f0707a" stroke-opacity="0.9" stroke-width="1" stroke-dasharray="1 2" shape-rendering="crispEdges"/>
<g clip-path="url(#cpMain)" shape-rendering="crispEdges">
<rect x="15" y="404" width="1" height="36" fill="#089981"/>
<rect x="12" y="410" width="7" height="11" fill="#089981"/>
<rect x="24" y="406" width="1" height="20" fill="#089981"/>
<rect x="21" y="408" width="7" height="4" fill="#089981"/>
<rect x="33" y="399" width="1" height="27" fill="#f23645"/>
<rect x="30" y="408" width="7" height="16" fill="#f23645"/>
<rect x="42" y="409" width="1" height="19" fill="#089981"/>
<rect x="39" y="418" width="7" height="7" fill="#089981"/>
<rect x="51" y="402" width="1" height="20" fill="#089981"/>
<rect x="48" y="409" width="7" height="10" fill="#089981"/>
<rect x="60" y="413" width="1" height="9" fill="#089981"/>
<rect x="57" y="416" width="7" height="2" fill="#089981"/>
<rect x="69" y="392" width="1" height="25" fill="#089981"/>
<rect x="66" y="396" width="7" height="21" fill="#089981"/>
<rect x="78" y="383" width="1" height="16" fill="#089981"/>
<rect x="75" y="386" width="7" height="10" fill="#089981"/>
<rect x="87" y="379" width="1" height="34" fill="#f23645"/>
<rect x="84" y="386" width="7" height="25" fill="#f23645"/>
<rect x="96" y="406" width="1" height="29" fill="#f23645"/>
<rect x="93" y="411" width="7" height="16" fill="#f23645"/>
<rect x="105" y="425" width="1" height="18" fill="#f23645"/>
<rect x="102" y="426" width="7" height="9" fill="#f23645"/>
<rect x="114" y="431" width="1" height="15" fill="#f23645"/>
<rect x="111" y="433" width="7" height="11" fill="#f23645"/>
<rect x="123" y="433" width="1" height="13" fill="#089981"/>
<rect x="120" y="437" width="7" height="8" fill="#089981"/>
<rect x="132" y="438" width="1" height="27" fill="#f23645"/>
<rect x="129" y="438" width="7" height="21" fill="#f23645"/>
<rect x="141" y="432" width="1" height="37" fill="#089981"/>
<rect x="138" y="453" width="7" height="6" fill="#089981"/>
<rect x="150" y="430" width="1" height="58" fill="#f23645"/>
<rect x="147" y="452" width="7" height="11" fill="#f23645"/>
<rect x="159" y="455" width="1" height="36" fill="#f23645"/>
<rect x="156" y="462" width="7" height="20" fill="#f23645"/>
<rect x="168" y="461" width="1" height="31" fill="#089981"/>
<rect x="165" y="470" width="7" height="12" fill="#089981"/>
<rect x="177" y="463" width="1" height="23" fill="#089981"/>
<rect x="174" y="465" width="7" height="6" fill="#089981"/>
<rect x="186" y="458" width="1" height="41" fill="#f23645"/>
<rect x="183" y="466" width="7" height="10" fill="#f23645"/>
<rect x="195" y="457" width="1" height="37" fill="#f23645"/>
<rect x="192" y="474" width="7" height="7" fill="#f23645"/>
<rect x="204" y="445" width="1" height="45" fill="#f23645"/>
<rect x="201" y="479" width="7" height="3" fill="#f23645"/>
<rect x="213" y="422" width="1" height="62" fill="#089981"/>
<rect x="210" y="424" width="7" height="60" fill="#089981"/>
<rect x="222" y="385" width="1" height="44" fill="#089981"/>
<rect x="219" y="395" width="7" height="30" fill="#089981"/>
<rect x="231" y="382" width="1" height="17" fill="#089981"/>
<rect x="228" y="389" width="7" height="7" fill="#089981"/>
<rect x="240" y="387" width="1" height="16" fill="#f23645"/>
<rect x="237" y="389" width="7" height="10" fill="#f23645"/>
<rect x="249" y="395" width="1" height="18" fill="#f23645"/>
<rect x="246" y="398" width="7" height="10" fill="#f23645"/>
<rect x="258" y="404" width="1" height="17" fill="#f23645"/>
<rect x="255" y="407" width="7" height="3" fill="#f23645"/>
<rect x="267" y="399" width="1" height="12" fill="#089981"/>
<rect x="264" y="404" width="7" height="6" fill="#089981"/>
<rect x="276" y="404" width="1" height="8" fill="#089981"/>
<rect x="273" y="407" width="7" height="5" fill="#089981"/>
<rect x="285" y="399" width="1" height="13" fill="#089981"/>
<rect x="282" y="402" width="7" height="7" fill="#089981"/>
<rect x="294" y="391" width="1" height="17" fill="#089981"/>
<rect x="291" y="397" width="7" height="6" fill="#089981"/>
<rect x="303" y="384" width="1" height="25" fill="#f23645"/>
<rect x="300" y="398" width="7" height="10" fill="#f23645"/>
<rect x="312" y="407" width="1" height="17" fill="#f23645"/>
<rect x="309" y="407" width="7" height="14" fill="#f23645"/>
<rect x="321" y="410" width="1" height="16" fill="#089981"/>
<rect x="318" y="415" width="7" height="6" fill="#089981"/>
<rect x="330" y="391" width="1" height="24" fill="#089981"/>
<rect x="327" y="394" width="7" height="21" fill="#089981"/>
<rect x="339" y="382" width="1" height="17" fill="#089981"/>
<rect x="336" y="389" width="7" height="6" fill="#089981"/>
<rect x="348" y="387" width="1" height="19" fill="#f23645"/>
<rect x="345" y="389" width="7" height="9" fill="#f23645"/>
<rect x="357" y="378" width="1" height="23" fill="#089981"/>
<rect x="354" y="397" width="7" height="1" fill="#089981"/>
<rect x="366" y="390" width="1" height="22" fill="#089981"/>
<rect x="363" y="392" width="7" height="6" fill="#089981"/>
<rect x="375" y="387" width="1" height="27" fill="#f23645"/>
<rect x="372" y="391" width="7" height="14" fill="#f23645"/>
<rect x="384" y="380" width="1" height="27" fill="#089981"/>
<rect x="381" y="385" width="7" height="22" fill="#089981"/>
<rect x="393" y="333" width="1" height="53" fill="#089981"/>
<rect x="390" y="340" width="7" height="45" fill="#089981"/>
<rect x="402" y="324" width="1" height="35" fill="#f23645"/>
<rect x="399" y="340" width="7" height="7" fill="#f23645"/>
<rect x="411" y="297" width="1" height="55" fill="#089981"/>
<rect x="408" y="307" width="7" height="40" fill="#089981"/>
<rect x="420" y="282" width="1" height="37" fill="#089981"/>
<rect x="417" y="283" width="7" height="25" fill="#089981"/>
<rect x="429" y="279" width="1" height="31" fill="#f23645"/>
<rect x="426" y="282" width="7" height="19" fill="#f23645"/>
<rect x="438" y="261" width="1" height="47" fill="#089981"/>
<rect x="435" y="262" width="7" height="39" fill="#089981"/>
<rect x="447" y="257" width="1" height="36" fill="#f23645"/>
<rect x="444" y="262" width="7" height="24" fill="#f23645"/>
<rect x="456" y="244" width="1" height="45" fill="#089981"/>
<rect x="453" y="256" width="7" height="30" fill="#089981"/>
<rect x="465" y="217" width="1" height="41" fill="#089981"/>
<rect x="462" y="230" width="7" height="27" fill="#089981"/>
<rect x="474" y="226" width="1" height="23" fill="#f23645"/>
<rect x="471" y="230" width="7" height="12" fill="#f23645"/>
<rect x="483" y="234" width="1" height="20" fill="#089981"/>
<rect x="480" y="235" width="7" height="8" fill="#089981"/>
<rect x="492" y="238" width="1" height="13" fill="#089981"/>
<rect x="489" y="241" width="7" height="7" fill="#089981"/>
<rect x="501" y="222" width="1" height="20" fill="#089981"/>
<rect x="498" y="227" width="7" height="15" fill="#089981"/>
<rect x="510" y="226" width="1" height="10" fill="#089981"/>
<rect x="507" y="227" width="7" height="1" fill="#089981"/>
<rect x="519" y="227" width="1" height="26" fill="#f23645"/>
<rect x="516" y="228" width="7" height="23" fill="#f23645"/>
<rect x="528" y="229" width="1" height="27" fill="#089981"/>
<rect x="525" y="239" width="7" height="12" fill="#089981"/>
<rect x="537" y="224" width="1" height="18" fill="#f23645"/>
<rect x="534" y="239" width="7" height="1" fill="#f23645"/>
<rect x="546" y="224" width="1" height="24" fill="#089981"/>
<rect x="543" y="225" width="7" height="14" fill="#089981"/>
<rect x="555" y="202" width="1" height="27" fill="#089981"/>
<rect x="552" y="212" width="7" height="14" fill="#089981"/>
<rect x="564" y="201" width="1" height="16" fill="#089981"/>
<rect x="561" y="204" width="7" height="9" fill="#089981"/>
<rect x="573" y="195" width="1" height="24" fill="#089981"/>
<rect x="570" y="203" width="7" height="2" fill="#089981"/>
<rect x="582" y="172" width="1" height="37" fill="#089981"/>
<rect x="579" y="176" width="7" height="27" fill="#089981"/>
<rect x="591" y="157" width="1" height="47" fill="#f23645"/>
<rect x="588" y="175" width="7" height="15" fill="#f23645"/>
<rect x="600" y="185" width="1" height="29" fill="#f23645"/>
<rect x="597" y="189" width="7" height="25" fill="#f23645"/>
<rect x="609" y="211" width="1" height="21" fill="#f23645"/>
<rect x="606" y="213" width="7" height="1" fill="#f23645"/>
<rect x="618" y="202" width="1" height="84" fill="#f23645"/>
<rect x="615" y="214" width="7" height="53" fill="#f23645"/>
<rect x="627" y="230" width="1" height="50" fill="#089981"/>
<rect x="624" y="252" width="7" height="16" fill="#089981"/>
<rect x="636" y="237" width="1" height="41" fill="#f23645"/>
<rect x="633" y="252" width="7" height="18" fill="#f23645"/>
<rect x="645" y="255" width="1" height="71" fill="#f23645"/>
<rect x="642" y="269" width="7" height="37" fill="#f23645"/>
<rect x="654" y="270" width="1" height="62" fill="#089981"/>
<rect x="651" y="275" width="7" height="32" fill="#089981"/>
<rect x="663" y="265" width="1" height="19" fill="#f23645"/>
<rect x="660" y="274" width="7" height="5" fill="#f23645"/>
<rect x="672" y="275" width="1" height="15" fill="#f23645"/>
<rect x="669" y="278" width="7" height="11" fill="#f23645"/>
<rect x="681" y="280" width="1" height="32" fill="#f23645"/>
<rect x="678" y="288" width="7" height="23" fill="#f23645"/>
<rect x="690" y="241" width="1" height="73" fill="#089981"/>
<rect x="687" y="246" width="7" height="64" fill="#089981"/>
<rect x="699" y="212" width="1" height="34" fill="#089981"/>
<rect x="696" y="226" width="7" height="20" fill="#089981"/>
<rect x="708" y="215" width="1" height="24" fill="#089981"/>
<rect x="705" y="225" width="7" height="14" fill="#089981"/>
<rect x="717" y="206" width="1" height="20" fill="#089981"/>
<rect x="714" y="209" width="7" height="17" fill="#089981"/>
<rect x="726" y="198" width="1" height="17" fill="#089981"/>
<rect x="723" y="201" width="7" height="9" fill="#089981"/>
<rect x="735" y="196" width="1" height="24" fill="#f23645"/>
<rect x="732" y="200" width="7" height="10" fill="#f23645"/>
<rect x="744" y="207" width="1" height="37" fill="#f23645"/>
<rect x="741" y="209" width="7" height="31" fill="#f23645"/>
<rect x="753" y="224" width="1" height="16" fill="#089981"/>
<rect x="750" y="233" width="7" height="7" fill="#089981"/>
<rect x="762" y="232" width="1" height="11" fill="#f23645"/>
<rect x="759" y="233" width="7" height="3" fill="#f23645"/>
<rect x="771" y="228" width="1" height="11" fill="#f23645"/>
<rect x="768" y="235" width="7" height="4" fill="#f23645"/>
<rect x="780" y="234" width="1" height="42" fill="#f23645"/>
<rect x="777" y="239" width="7" height="34" fill="#f23645"/>
<rect x="789" y="249" width="1" height="25" fill="#089981"/>
<rect x="786" y="254" width="7" height="20" fill="#089981"/>
<rect x="798" y="225" width="1" height="32" fill="#089981"/>
<rect x="795" y="236" width="7" height="19" fill="#089981"/>
<rect x="807" y="229" width="1" height="56" fill="#f23645"/>
<rect x="804" y="236" width="7" height="46" fill="#f23645"/>
<rect x="816" y="267" width="1" height="28" fill="#089981"/>
<rect x="813" y="271" width="7" height="10" fill="#089981"/>
<rect x="825" y="260" width="1" height="36" fill="#f23645"/>
<rect x="822" y="271" width="7" height="13" fill="#f23645"/>
<rect x="834" y="256" width="1" height="29" fill="#089981"/>
<rect x="831" y="267" width="7" height="17" fill="#089981"/>
<rect x="843" y="247" width="1" height="32" fill="#f23645"/>
<rect x="840" y="267" width="7" height="5" fill="#f23645"/>
<rect x="852" y="244" width="1" height="28" fill="#089981"/>
<rect x="849" y="257" width="7" height="15" fill="#089981"/>
<rect x="861" y="229" width="1" height="33" fill="#089981"/>
<rect x="858" y="242" width="7" height="17" fill="#089981"/>
<rect x="870" y="219" width="1" height="26" fill="#089981"/>
<rect x="867" y="236" width="7" height="8" fill="#089981"/>
<rect x="879" y="228" width="1" height="27" fill="#f23645"/>
<rect x="876" y="235" width="7" height="8" fill="#f23645"/>
<rect x="888" y="221" width="1" height="25" fill="#089981"/>
<rect x="885" y="238" width="7" height="4" fill="#089981"/>
<rect x="897" y="229" width="1" height="30" fill="#f23645"/>
<rect x="894" y="237" width="7" height="7" fill="#f23645"/>
<rect x="906" y="242" width="1" height="40" fill="#f23645"/>
<rect x="903" y="243" width="7" height="28" fill="#f23645"/>
<rect x="915" y="267" width="1" height="11" fill="#f23645"/>
<rect x="912" y="270" width="7" height="4" fill="#f23645"/>
<rect x="924" y="256" width="1" height="20" fill="#089981"/>
<rect x="921" y="267" width="7" height="9" fill="#089981"/>
<rect x="933" y="253" width="1" height="16" fill="#089981"/>
<rect x="930" y="261" width="7" height="6" fill="#089981"/>
<rect x="942" y="253" width="1" height="13" fill="#089981"/>
<rect x="939" y="259" width="7" height="1" fill="#089981"/>
<rect x="951" y="257" width="1" height="14" fill="#089981"/>
<rect x="948" y="258" width="7" height="1" fill="#089981"/>
<rect x="960" y="236" width="1" height="28" fill="#089981"/>
<rect x="957" y="237" width="7" height="24" fill="#089981"/>
<rect x="969" y="217" width="1" height="20" fill="#089981"/>
<rect x="966" y="223" width="7" height="14" fill="#089981"/>
<rect x="978" y="204" width="1" height="21" fill="#089981"/>
<rect x="975" y="212" width="7" height="12" fill="#089981"/>
<rect x="987" y="204" width="1" height="9" fill="#089981"/>
<rect x="984" y="210" width="7" height="3" fill="#089981"/>
<rect x="996" y="209" width="1" height="12" fill="#f23645"/>
<rect x="993" y="211" width="7" height="6" fill="#f23645"/>
<rect x="1005" y="207" width="1" height="21" fill="#f23645"/>
<rect x="1002" y="216" width="7" height="11" fill="#f23645"/>
<rect x="1014" y="223" width="1" height="39" fill="#f23645"/>
<rect x="1011" y="226" width="7" height="35" fill="#f23645"/>
<rect x="1023" y="234" width="1" height="33" fill="#089981"/>
<rect x="1020" y="244" width="7" height="17" fill="#089981"/>
<rect x="1032" y="238" width="1" height="40" fill="#f23645"/>
<rect x="1029" y="244" width="7" height="29" fill="#f23645"/>
<rect x="1041" y="259" width="1" height="15" fill="#089981"/>
<rect x="1038" y="261" width="7" height="11" fill="#089981"/>
<rect x="1050" y="260" width="1" height="48" fill="#f23645"/>
<rect x="1047" y="261" width="7" height="37" fill="#f23645"/>
<rect x="1059" y="292" width="1" height="33" fill="#f23645"/>
<rect x="1056" y="297" width="7" height="17" fill="#f23645"/>
<rect x="1068" y="299" width="1" height="24" fill="#f23645"/>
<rect x="1065" y="314" width="7" height="3" fill="#f23645"/>
<rect x="1077" y="313" width="1" height="60" fill="#f23645"/>
<rect x="1074" y="315" width="7" height="49" fill="#f23645"/>
<rect x="1086" y="340" width="1" height="34" fill="#089981"/>
<rect x="1083" y="341" width="7" height="22" fill="#089981"/>
<rect x="1095" y="331" width="1" height="20" fill="#089981"/>
<rect x="1092" y="339" width="7" height="3" fill="#089981"/>
<rect x="1104" y="329" width="1" height="27" fill="#089981"/>
<rect x="1101" y="332" width="7" height="8" fill="#089981"/>
<rect x="1113" y="326" width="1" height="14" fill="#089981"/>
<rect x="1110" y="330" width="7" height="3" fill="#089981"/>
<rect x="1122" y="329" width="1" height="21" fill="#f23645"/>
<rect x="1119" y="330" width="7" height="15" fill="#f23645"/>
<rect x="1131" y="315" width="1" height="31" fill="#089981"/>
<rect x="1128" y="323" width="7" height="22" fill="#089981"/>
<rect x="1140" y="324" width="1" height="18" fill="#089981"/>
<rect x="1137" y="325" width="7" height="17" fill="#089981"/>
<rect x="1149" y="317" width="1" height="17" fill="#f23645"/>
<rect x="1146" y="325" width="7" height="5" fill="#f23645"/>
<rect x="1158" y="319" width="1" height="10" fill="#089981"/>
<rect x="1155" y="321" width="7" height="8" fill="#089981"/>
<rect x="1167" y="315" width="1" height="16" fill="#f23645"/>
<rect x="1164" y="322" width="7" height="3" fill="#f23645"/>
<rect x="1176" y="303" width="1" height="23" fill="#089981"/>
<rect x="1173" y="316" width="7" height="9" fill="#089981"/>
<rect x="1185" y="303" width="1" height="16" fill="#089981"/>
<rect x="1182" y="309" width="7" height="8" fill="#089981"/>
<rect x="1194" y="305" width="1" height="13" fill="#f23645"/>
<rect x="1191" y="309" width="7" height="5" fill="#f23645"/>
<rect x="1203" y="299" width="1" height="24" fill="#089981"/>
<rect x="1200" y="300" width="7" height="14" fill="#089981"/>
<rect x="1212" y="297" width="1" height="31" fill="#f23645"/>
<rect x="1209" y="299" width="7" height="29" fill="#f23645"/>
<rect x="1221" y="317" width="1" height="21" fill="#f23645"/>
<rect x="1218" y="326" width="7" height="11" fill="#f23645"/>
<rect x="1230" y="307" width="1" height="31" fill="#089981"/>
<rect x="1227" y="314" width="7" height="23" fill="#089981"/>
<rect x="1239" y="309" width="1" height="22" fill="#f23645"/>
<rect x="1236" y="314" width="7" height="12" fill="#f23645"/>
<rect x="1248" y="317" width="1" height="36" fill="#f23645"/>
<rect x="1245" y="325" width="7" height="17" fill="#f23645"/>
<rect x="1257" y="329" width="1" height="14" fill="#089981"/>
<rect x="1254" y="334" width="7" height="9" fill="#089981"/>
<rect x="1266" y="332" width="1" height="26" fill="#f23645"/>
<rect x="1263" y="334" width="7" height="11" fill="#f23645"/>
<rect x="1275" y="243" width="1" height="109" fill="#089981"/>
<rect x="1272" y="270" width="7" height="73" fill="#089981"/>
<rect x="1284" y="219" width="1" height="99" fill="#089981"/>
<rect x="1281" y="250" width="7" height="20" fill="#089981"/>
<rect x="1293" y="229" width="1" height="42" fill="#089981"/>
<rect x="1290" y="238" width="7" height="13" fill="#089981"/>
<rect x="1302" y="160" width="1" height="82" fill="#089981"/>
<rect x="1299" y="210" width="7" height="30" fill="#089981"/>
<rect x="1311" y="183" width="1" height="40" fill="#089981"/>
<rect x="1308" y="195" width="7" height="16" fill="#089981"/>
<rect x="1320" y="194" width="1" height="18" fill="#f23645"/>
<rect x="1317" y="195" width="7" height="15" fill="#f23645"/>
<rect x="1329" y="197" width="1" height="29" fill="#f23645"/>
<rect x="1326" y="208" width="7" height="10" fill="#f23645"/>
<rect x="1338" y="203" width="1" height="22" fill="#089981"/>
<rect x="1335" y="205" width="7" height="13" fill="#089981"/>
<rect x="1347" y="201" width="1" height="10" fill="#f23645"/>
<rect x="1344" y="206" width="7" height="3" fill="#f23645"/>
<rect x="1356" y="206" width="1" height="15" fill="#089981"/>
<rect x="1353" y="209" width="7" height="9" fill="#089981"/>
<rect x="1365" y="200" width="1" height="10" fill="#089981"/>
<rect x="1362" y="202" width="7" height="8" fill="#089981"/>
<rect x="1374" y="196" width="1" height="9" fill="#089981"/>
<rect x="1371" y="200" width="7" height="1" fill="#089981"/>
<rect x="1383" y="193" width="1" height="20" fill="#089981"/>
<rect x="1380" y="195" width="7" height="6" fill="#089981"/>
<rect x="1392" y="182" width="1" height="20" fill="#f23645"/>
<rect x="1389" y="195" width="7" height="6" fill="#f23645"/>
<rect x="1401" y="183" width="1" height="31" fill="#089981"/>
<rect x="1398" y="191" width="7" height="11" fill="#089981"/>
<rect x="1410" y="179" width="1" height="17" fill="#089981"/>
<rect x="1407" y="187" width="7" height="5" fill="#089981"/>
<rect x="1419" y="183" width="1" height="9" fill="#089981"/>
<rect x="1416" y="186" width="7" height="1" fill="#089981"/>
<rect x="1428" y="184" width="1" height="18" fill="#f23645"/>
<rect x="1425" y="186" width="7" height="11" fill="#f23645"/>
<rect x="1437" y="160" width="1" height="36" fill="#089981"/>
<rect x="1434" y="170" width="7" height="26" fill="#089981"/>
<rect x="1446" y="129" width="1" height="43" fill="#089981"/>
<rect x="1443" y="138" width="7" height="34" fill="#089981"/>
<rect x="1455" y="114" width="1" height="26" fill="#089981"/>
<rect x="1452" y="127" width="7" height="13" fill="#089981"/>
<rect x="1464" y="94" width="1" height="34" fill="#089981"/>
<rect x="1461" y="96" width="7" height="32" fill="#089981"/>
<rect x="1473" y="95" width="1" height="28" fill="#f23645"/>
<rect x="1470" y="97" width="7" height="26" fill="#f23645"/>
<rect x="1482" y="116" width="1" height="23" fill="#089981"/>
<rect x="1479" y="116" width="7" height="7" fill="#089981"/>
<rect x="1491" y="111" width="1" height="49" fill="#f23645"/>
<rect x="1488" y="117" width="7" height="41" fill="#f23645"/>
<rect x="1500" y="141" width="1" height="27" fill="#089981"/>
<rect x="1497" y="145" width="7" height="12" fill="#089981"/>
<rect x="1509" y="108" width="1" height="41" fill="#089981"/>
<rect x="1506" y="115" width="7" height="32" fill="#089981"/>
<rect x="1518" y="115" width="1" height="22" fill="#f23645"/>
<rect x="1515" y="115" width="7" height="13" fill="#f23645"/>
</g>
<g clip-path="url(#cpAdx)">
<polyline points="15.5,642.1 24.5,646.1 33.5,650.1 42.5,653.4 51.5,655.7 60.5,657.8 69.5,656.9 78.5,656.3 87.5,657.3 96.5,659.7 105.5,661.3 114.5,662.5 123.5,663.1 132.5,662.6 141.5,661.9 150.5,659.6 159.5,657.2 168.5,655.0 177.5,652.7 186.5,649.7 195.5,647.0 204.5,646.2 213.5,649.4 222.5,649.4 231.5,649.1 240.5,649.3 249.5,651.0 258.5,653.7 267.5,655.8 276.5,657.6 285.5,658.0 294.5,658.1 303.5,656.6 312.5,658.6 321.5,660.5 330.5,659.9 339.5,657.6 348.5,657.0 357.5,655.2 366.5,655.5 375.5,655.4 384.5,654.5 393.5,649.3 402.5,643.7 411.5,637.1 420.5,630.5 429.5,623.4 438.5,616.2 447.5,609.1 456.5,602.4 465.5,595.6 474.5,589.2 483.5,583.4 492.5,578.0 501.5,573.1 510.5,569.0 519.5,568.7 528.5,568.5 537.5,568.6 546.5,568.7 555.5,567.7 564.5,566.6 573.5,565.3 582.5,562.3 591.5,559.9 600.5,559.6 609.5,563.6 618.5,573.1 627.5,582.4 636.5,589.7 645.5,593.0 654.5,595.5 663.5,598.5 672.5,600.6 681.5,601.6 690.5,607.0 699.5,612.8 708.5,618.3 717.5,622.1 726.5,624.8 735.5,628.9 744.5,633.3 753.5,637.5 762.5,640.6 771.5,643.4 780.5,643.1 789.5,642.9 798.5,645.9 807.5,645.6 816.5,645.1 825.5,645.6 834.5,646.1 843.5,647.9 852.5,650.0 861.5,653.3 870.5,655.3 879.5,658.1 888.5,660.0 897.5,662.4 906.5,662.1 915.5,662.0 924.5,663.2 933.5,664.8 942.5,666.3 951.5,667.1 960.5,667.8 969.5,666.4 978.5,663.7 987.5,661.3 996.5,660.5 1005.5,661.1 1014.5,661.7 1023.5,661.9 1032.5,660.7 1041.5,659.5 1050.5,655.9 1059.5,651.0 1068.5,646.1 1077.5,638.9 1086.5,632.0 1095.5,626.6 1104.5,621.6 1113.5,617.9 1122.5,614.2 1131.5,612.7 1140.5,611.2 1149.5,611.0 1158.5,611.0 1167.5,611.4 1176.5,613.8 1185.5,616.3 1194.5,618.6 1203.5,622.7 1212.5,624.8 1221.5,626.6 1230.5,628.7 1239.5,631.2 1248.5,630.9 1257.5,630.4 1266.5,628.5 1275.5,627.7 1284.5,627.0 1293.5,626.4 1302.5,621.3 1311.5,616.5 1320.5,612.0 1329.5,610.2 1338.5,608.4 1347.5,606.6 1356.5,606.1 1365.5,605.6 1374.5,604.9 1383.5,605.2 1392.5,604.6 1401.5,605.9 1410.5,607.0 1419.5,608.0 1428.5,611.0 1437.5,611.0 1446.5,608.7 1455.5,605.3 1464.5,601.6 1473.5,598.2 1482.5,597.6 1491.5,600.3 1500.5,603.6 1509.5,604.7 1518.5,605.2" fill="none" stroke="#f04a4f" stroke-width="1.3" stroke-linejoin="round"/>
</g>
<rect x="16" y="625" width="1660" height="4" fill="#ef5350" shape-rendering="crispEdges"/>
<g clip-path="url(#cpAtr)">
<polyline points="15.5,693.4 24.5,701.5 33.5,709.4 42.5,716.1 51.5,721.7 60.5,730.4 69.5,735.0 78.5,741.9 87.5,742.0 96.5,743.5 105.5,749.3 114.5,755.5 123.5,761.8 132.5,762.6 141.5,759.4 150.5,750.4 159.5,749.3 168.5,749.4 177.5,752.6 186.5,749.8 195.5,748.1 204.5,744.1 213.5,733.9 222.5,731.6 231.5,738.0 240.5,744.3 249.5,749.8 258.5,755.0 267.5,761.9 276.5,769.4 285.5,774.4 294.5,778.1 303.5,779.0 312.5,781.9 321.5,785.4 330.5,785.7 339.5,788.7 348.5,791.1 357.5,791.4 366.5,792.1 375.5,791.0 384.5,788.5 393.5,779.7 402.5,776.0 411.5,766.1 420.5,763.7 429.5,762.9 438.5,757.0 447.5,755.0 456.5,751.1 465.5,748.4 474.5,751.8 483.5,756.3 492.5,761.6 501.5,765.6 510.5,772.1 519.5,773.1 528.5,773.5 537.5,776.5 546.5,777.4 555.5,777.4 564.5,781.2 573.5,782.1 582.5,777.9 591.5,771.4 600.5,771.4 609.5,773.5 618.5,754.2 627.5,747.7 636.5,744.1 645.5,731.6 654.5,722.8 663.5,730.1 672.5,737.0 681.5,737.6 690.5,724.3 699.5,725.6 708.5,730.7 717.5,736.5 726.5,743.1 735.5,746.6 744.5,745.3 753.5,751.5 762.5,758.8 771.5,765.3 780.5,760.8 789.5,763.0 798.5,762.3 807.5,753.0 816.5,754.6 825.5,752.7 834.5,753.6 843.5,753.6 852.5,755.0 861.5,754.7 870.5,756.3 879.5,757.7 888.5,759.7 897.5,759.9 906.5,756.9 915.5,763.8 924.5,768.3 933.5,772.8 942.5,778.0 951.5,782.4 960.5,781.9 969.5,784.5 978.5,786.0 987.5,791.6 996.5,796.2 1005.5,796.7 1014.5,791.1 1023.5,788.0 1032.5,783.0 1041.5,786.4 1050.5,778.6 1059.5,775.8 1068.5,776.7 1077.5,765.6 1086.5,764.1 1095.5,767.1 1104.5,768.3 1113.5,773.5 1122.5,775.3 1131.5,774.2 1140.5,777.2 1149.5,781.3 1158.5,786.9 1167.5,789.8 1176.5,790.5 1185.5,793.5 1194.5,796.9 1203.5,796.1 1212.5,793.2 1221.5,794.4 1230.5,791.9 1239.5,792.8 1248.5,788.5 1257.5,791.8 1266.5,791.5 1275.5,759.3 1284.5,737.4 1293.5,734.6 1302.5,719.3 1311.5,718.5 1320.5,725.6 1329.5,729.1 1338.5,734.0 1347.5,742.5 1356.5,749.9 1365.5,758.2 1374.5,765.2 1383.5,769.1 1392.5,771.9 1401.5,771.1 1410.5,775.8 1419.5,781.6 1428.5,784.2 1437.5,780.4 1446.5,774.7 1455.5,774.7 1464.5,773.1 1473.5,773.1 1482.5,774.8 1491.5,768.0 1500.5,767.9 1509.5,764.1 1518.5,766.2" fill="none" stroke="#d32f2f" stroke-width="1.3" stroke-linejoin="round"/>
</g>
<g>
<circle cx="1518.4" cy="525.5" r="16.5" fill="#0f0f0f"/>
<circle cx="1518.4" cy="525.5" r="14.6" fill="#0f0f0f" stroke="#bd5bd6" stroke-width="2.4"/>
<circle cx="1529" cy="515.3" r="6.3" fill="#0f0f0f"/>
<circle cx="1529" cy="515.3" r="4.1" fill="#f23645"/>
<polygon points="1522.5,518 1512.3,526.4 1518.1,526.4 1513.9,533.6 1524.8,524.7 1519,524.7" fill="#bd5bd6"/>
</g>
<g>
<text y="29" font-size="17" fill="#e6e6e6" stroke="#e6e6e6" stroke-width="0.4"><tspan x="15.7" textLength="108.2" lengthAdjust="spacingAndGlyphs">ForexCracked</tspan> <tspan x="131" textLength="60.2" lengthAdjust="spacingAndGlyphs">created</tspan> <tspan x="197.8" textLength="35.3" lengthAdjust="spacingAndGlyphs">with</tspan> <tspan x="240.2" textLength="139.7" lengthAdjust="spacingAndGlyphs">TradingView.com,</tspan> <tspan x="387.1" textLength="28.9" lengthAdjust="spacingAndGlyphs">Aug</tspan> <tspan x="424.2" textLength="20.9" lengthAdjust="spacingAndGlyphs">13,</tspan> <tspan x="452.8" textLength="36" lengthAdjust="spacingAndGlyphs">2025</tspan> <tspan x="496.8" textLength="42.9" lengthAdjust="spacingAndGlyphs">15:24</tspan> <tspan x="545.9" textLength="31.8" lengthAdjust="spacingAndGlyphs">UTC</tspan></text>
<text x="27.6" y="70" font-size="17" fill="#d4d4d4" textLength="296.2" lengthAdjust="spacingAndGlyphs" stroke="#d4d4d4" stroke-width="0.3">Euro / U.S. Dollar · 1h · Pepperstone</text>
<text x="335.1" y="70" font-size="17" fill="#d4d4d4" textLength="11.8" lengthAdjust="spacingAndGlyphs" stroke="#d4d4d4" stroke-width="0.3">O</text>
<text x="349.9" y="70" font-size="17" fill="#f23645" textLength="60" lengthAdjust="spacingAndGlyphs" stroke="#f23645" stroke-width="0.3">1.17200</text>
<text x="421.4" y="70" font-size="17" fill="#d4d4d4" textLength="10.4" lengthAdjust="spacingAndGlyphs" stroke="#d4d4d4" stroke-width="0.3">H</text>
<text x="434.2" y="70" font-size="17" fill="#f23645" textLength="61.1" lengthAdjust="spacingAndGlyphs" stroke="#f23645" stroke-width="0.3">1.17202</text>
<text x="507.5" y="70" font-size="17" fill="#d4d4d4" textLength="7.9" lengthAdjust="spacingAndGlyphs" stroke="#d4d4d4" stroke-width="0.3">L</text>
<text x="516.9" y="70" font-size="17" fill="#f23645" textLength="60.6" lengthAdjust="spacingAndGlyphs" stroke="#f23645" stroke-width="0.3">1.17091</text>
<text x="590.2" y="70" font-size="17" fill="#d4d4d4" textLength="9.5" lengthAdjust="spacingAndGlyphs" stroke="#d4d4d4" stroke-width="0.3">C</text>
<text x="602" y="70" font-size="17" fill="#f23645" textLength="61.2" lengthAdjust="spacingAndGlyphs" stroke="#f23645" stroke-width="0.3">1.17139</text>
<text x="676" y="70" font-size="17" fill="#f23645" textLength="70.6" lengthAdjust="spacingAndGlyphs" stroke="#f23645" stroke-width="0.3">−0.00062</text>
<text x="754" y="70" font-size="17" fill="#f23645" textLength="66.8" lengthAdjust="spacingAndGlyphs" stroke="#f23645" stroke-width="0.3">(−0.05%)</text>
<text x="27.6" y="96" font-size="17" fill="#d4d4d4" textLength="22.6" lengthAdjust="spacingAndGlyphs" stroke="#d4d4d4" stroke-width="0.3">Vol</text>
<text x="62.8" y="96" font-size="17" fill="#ef5350" textLength="46.6" lengthAdjust="spacingAndGlyphs" stroke="#ef5350" stroke-width="0.3">4.88 K</text>
<text x="27.6" y="122" font-size="17" fill="#d4d4d4" textLength="174.7" lengthAdjust="spacingAndGlyphs" stroke="#d4d4d4" stroke-width="0.3">BB (20, SMA, close, 2)</text>
<text x="214.9" y="122" font-size="17" fill="#2962ff" textLength="61.2" lengthAdjust="spacingAndGlyphs" stroke="#2962ff" stroke-width="0.3">1.16952</text>
<text x="289.7" y="122" font-size="17" fill="#f23645" textLength="60.7" lengthAdjust="spacingAndGlyphs" stroke="#f23645" stroke-width="0.3">1.17318</text>
<text x="363" y="122" font-size="17" fill="#089981" textLength="62.2" lengthAdjust="spacingAndGlyphs" stroke="#089981" stroke-width="0.3">1.16586</text>
<text x="27.4" y="575" font-size="17" fill="#d4d4d4" textLength="99.1" lengthAdjust="spacingAndGlyphs" stroke="#d4d4d4" stroke-width="0.3">ADX (14, 14)</text>
<text x="138.8" y="575" font-size="17" fill="#f04a4f" textLength="42.9" lengthAdjust="spacingAndGlyphs" stroke="#f04a4f" stroke-width="0.3">34.22</text>
<text x="27.4" y="710" font-size="17" fill="#d4d4d4" textLength="111.4" lengthAdjust="spacingAndGlyphs" stroke="#d4d4d4" stroke-width="0.3">ATR (14, RMA)</text>
<text x="151.6" y="710" font-size="17" fill="#d32f2f" textLength="61.5" lengthAdjust="spacingAndGlyphs" stroke="#d32f2f" stroke-width="0.3">0.00146</text>
</g>
<g>
<text x="1690" y="261.2" font-size="17" fill="#cfcfcf" textLength="63" lengthAdjust="spacingAndGlyphs" stroke="#cfcfcf" stroke-width="0.3">1.16500</text>
<text x="1690" y="361.2" font-size="17" fill="#cfcfcf" textLength="63" lengthAdjust="spacingAndGlyphs" stroke="#cfcfcf" stroke-width="0.3">1.16000</text>
<text x="1690" y="461.2" font-size="17" fill="#cfcfcf" textLength="63" lengthAdjust="spacingAndGlyphs" stroke="#cfcfcf" stroke-width="0.3">1.15500</text>
<text x="1690" y="595.7" font-size="17" fill="#cfcfcf" textLength="44" lengthAdjust="spacingAndGlyphs" stroke="#cfcfcf" stroke-width="0.3">40.00</text>
<text x="1690" y="650.9" font-size="17" fill="#cfcfcf" textLength="44" lengthAdjust="spacingAndGlyphs" stroke="#cfcfcf" stroke-width="0.3">20.00</text>
<text x="1690" y="720.7" font-size="17" fill="#cfcfcf" textLength="63" lengthAdjust="spacingAndGlyphs" stroke="#cfcfcf" stroke-width="0.3">0.00200</text>
<text x="1690" y="769.9" font-size="17" fill="#cfcfcf" textLength="63" lengthAdjust="spacingAndGlyphs" stroke="#cfcfcf" stroke-width="0.3">0.00150</text>
<g clip-path="url(#cpAxis)">
<path d="M1677 80.7 H1758.5 Q1761 80.7 1761 83.2 V105.2 Q1761 107.7 1758.5 107.7 H1677 Z" fill="#089981"/>
<text x="1690.6" y="100.8" font-size="17" fill="#ffffff" textLength="62.6" lengthAdjust="spacingAndGlyphs" stroke="#ffffff" stroke-width="0.6">1.17306</text>
</g>
<path d="M1677 114.5 H1758.5 Q1761 114.5 1761 117.0 V159.2 Q1761 161.7 1758.5 161.7 H1677 Z" fill="#f23645"/>
<text x="1690.6" y="133.2" font-size="17" fill="#ffffff" textLength="62.6" lengthAdjust="spacingAndGlyphs" stroke="#ffffff" stroke-width="0.6">1.17139</text>
<text x="1690.6" y="154" font-size="17" fill="#ffd2d6" textLength="44" lengthAdjust="spacingAndGlyphs" stroke="#ffd2d6" stroke-width="0.6">35:42</text>
<path d="M1677 256 H1758.5 Q1761 256 1761 258.5 V280.5 Q1761 283 1758.5 283 H1677 Z" fill="#808080"/>
<text x="1690.6" y="275.8" font-size="17" fill="#ffffff" textLength="62.6" lengthAdjust="spacingAndGlyphs" stroke="#ffffff" stroke-width="0.6">1.16427</text>
<path d="M1677 315 H1758.5 Q1761 315 1761 317.5 V339.5 Q1761 342 1758.5 342 H1677 Z" fill="#f23645"/>
<text x="1690.6" y="334.5" font-size="17" fill="#ffffff" textLength="62.6" lengthAdjust="spacingAndGlyphs" stroke="#ffffff" stroke-width="0.6">1.16134</text>
<path d="M1677 614.3 H1739.0 Q1741.5 614.3 1741.5 616.8 V637.9 Q1741.5 640.4 1739.0 640.4 H1677 Z" fill="#f2473f"/>
<text x="1690.1" y="633.4" font-size="17" fill="#ffffff" textLength="43.4" lengthAdjust="spacingAndGlyphs" stroke="#ffffff" stroke-width="0.7">26.33</text>
<rect x="1681.5" y="46.5" width="91" height="39" rx="5" fill="#0f0f0f" stroke="#434343" stroke-width="1"/>
<text x="1696.4" y="71.6" font-size="17" fill="#dcdcdc" textLength="30.6" lengthAdjust="spacingAndGlyphs" stroke="#dcdcdc" stroke-width="0.3">USD</text>
</g>
<g>
<text x="82.75" y="836.6" font-size="17" fill="#cfcfcf" stroke="#cfcfcf" stroke-width="0.7">5</text>
<text x="174.1" y="836.6" font-size="17" fill="#cfcfcf" textLength="42.8" lengthAdjust="spacingAndGlyphs" stroke="#cfcfcf" stroke-width="0.3">12:00</text>
<text x="298.75" y="836.6" font-size="17" fill="#cfcfcf" stroke="#cfcfcf" stroke-width="0.7">6</text>
<text x="390.1" y="836.6" font-size="17" fill="#cfcfcf" textLength="42.8" lengthAdjust="spacingAndGlyphs" stroke="#cfcfcf" stroke-width="0.3">12:00</text>
<text x="514.75" y="836.6" font-size="17" fill="#cfcfcf" stroke="#cfcfcf" stroke-width="0.7">7</text>
<text x="606.1" y="836.6" font-size="17" fill="#cfcfcf" textLength="42.8" lengthAdjust="spacingAndGlyphs" stroke="#cfcfcf" stroke-width="0.3">12:00</text>
<text x="730.75" y="836.6" font-size="17" fill="#cfcfcf" stroke="#cfcfcf" stroke-width="0.7">8</text>
<text x="822.1" y="836.6" font-size="17" fill="#cfcfcf" textLength="42.8" lengthAdjust="spacingAndGlyphs" stroke="#cfcfcf" stroke-width="0.3">12:00</text>
<text x="916.4" y="836.6" font-size="17" fill="#cfcfcf" textLength="18.2" lengthAdjust="spacingAndGlyphs" stroke="#cfcfcf" stroke-width="0.7">10</text>
<text x="1038.1" y="836.6" font-size="17" fill="#cfcfcf" textLength="42.8" lengthAdjust="spacingAndGlyphs" stroke="#cfcfcf" stroke-width="0.3">12:00</text>
<text x="1158.4" y="836.6" font-size="17" fill="#cfcfcf" textLength="18.2" lengthAdjust="spacingAndGlyphs" stroke="#cfcfcf" stroke-width="0.7">12</text>
<text x="1254.1" y="836.6" font-size="17" fill="#cfcfcf" textLength="42.8" lengthAdjust="spacingAndGlyphs" stroke="#cfcfcf" stroke-width="0.3">12:00</text>
<text x="1374.4" y="836.6" font-size="17" fill="#cfcfcf" textLength="18.2" lengthAdjust="spacingAndGlyphs" stroke="#cfcfcf" stroke-width="0.7">13</text>
<text x="1470.1" y="836.6" font-size="17" fill="#cfcfcf" textLength="42.8" lengthAdjust="spacingAndGlyphs" stroke="#cfcfcf" stroke-width="0.3">12:00</text>
<text x="1590.4" y="836.6" font-size="17" fill="#cfcfcf" textLength="18.2" lengthAdjust="spacingAndGlyphs" stroke="#cfcfcf" stroke-width="0.7">14</text>
</g>
<g fill="#dedede">
<path d="M18.1 884 H36 V906.5 H26.8 V893.2 H18.1 Z"/>
<circle cx="43.2" cy="888.2" r="4.5"/>
<path d="M51 884 H62.7 L53.5 906.5 H43.2 Z"/>
<text x="73.3" y="906.5" font-size="31.5" fill="#dedede" font-weight="700" textLength="181" lengthAdjust="spacingAndGlyphs">TradingView</text>
</g>
</svg></body></html>
